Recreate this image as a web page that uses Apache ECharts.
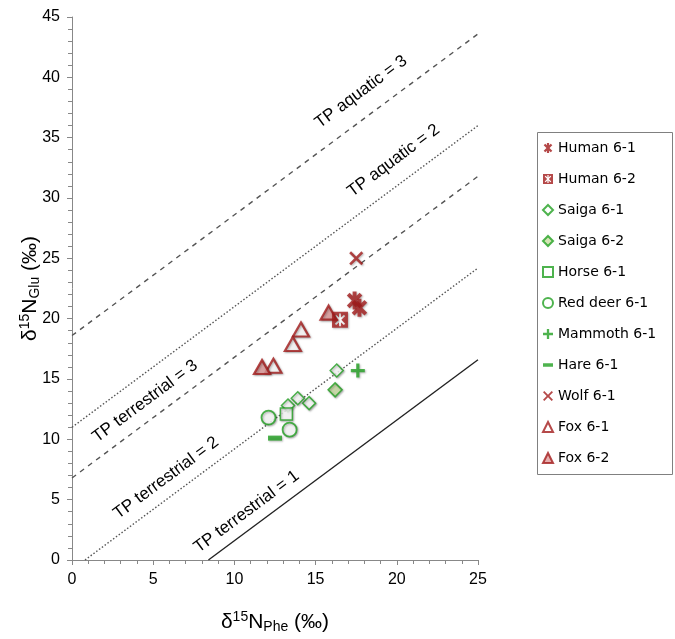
<!DOCTYPE html>
<html><head><meta charset="utf-8">
<script src="https://cdn.jsdelivr.net/npm/echarts@6/dist/echarts.min.js"></script>
<style>html,body{margin:0;padding:0;background:#fff}#c{width:675px;height:639px}</style>
</head><body><div id="c"></div>
<script>
// ---- data ----
const seriesNames = ['Human 6-1','Human 6-2','Saiga 6-1','Saiga 6-2','Horse 6-1','Red deer 6-1','Mammoth 6-1','Hare 6-1','Wolf 6-1','Fox 6-1','Fox 6-2'];
const human61 = [[17.4,21.5],[17.7,20.9]];
const human62 = [[16.5,19.9]];
const saiga61 = [[16.3,15.7],[14.6,13.0],[13.9,13.4],[13.3,12.8]];
const saiga62 = [[16.2,14.1]];
const horse61 = [[13.2,12.1]];
const redDeer61 = [[12.1,11.8],[13.4,10.8]];
const mammoth61 = [[17.6,15.7]];
const hare61 = [[12.5,10.1]];
const wolf61 = [[17.5,25.0]];
const fox61 = [[14.1,19.1],[13.6,17.9],[12.4,16.1]];
const fox62 = [[15.8,20.5],[11.7,16.0]];

// reference lines: endpoints [x,y]
const tpLineNames = ['TP aquatic = 3','TP aquatic = 2','TP terrestrial = 3','TP terrestrial = 2','TP terrestrial = 1'];
const tpLineStarts = [[0,18.6],[0,11.0],[0,6.8],[0.8,0],[8.4,0]];
const tpLineEnds = [[25,43.6],[25,36.0],[25,31.8],[25,24.2],[25,16.6]];
const tpLabelAnchors = [[17.8,38.8],[19.8,33.1],[4.5,13.15],[5.8,6.8],[10.75,4.0]];

const xTickValues = [0,5,10,15,20,25];
const yTickValues = [0,5,10,15,20,25,30,35,40,45];

// ---- styles ----
const RED = '#A21B1B', GREEN = '#22A022';
function starPoints(angles, L, w, cx, cy){
  const pts=[]; const n=angles.length;
  for(let i=0;i<n;i++){
    const a=angles[i]*Math.PI/180; let b=angles[(i+1)%n]*Math.PI/180; if(b<=a) b+=2*Math.PI;
    const dx=Math.cos(a), dy=Math.sin(a), px=-dy, py=dx;
    pts.push([cx+L*dx-w*px, cy+L*dy-w*py]);
    pts.push([cx+L*dx+w*px, cy+L*dy+w*py]);
    const m=(a+b)/2, r=w/Math.sin((b-a)/2);
    pts.push([cx+r*Math.cos(m), cy+r*Math.sin(m)]);
  }
  return pts;
}
function toPath(pts){ return 'M'+pts.map(p=>p[0].toFixed(2)+','+p[1].toFixed(2)).join('L')+'Z'; }
const AST = [45,90,135,225,270,315];
const symAsterisk = 'path://' + toPath(starPoints(AST,10,2.2,10,10));
const symSquareStar = 'path://M0,0L20,0L20,20L0,20Z' + toPath(starPoints(AST,8,1.2,10,10).reverse());
const symX = 'path://' + toPath(starPoints([45,135,225,315],10,1.5,10,10));
const symPlus = 'path://' + toPath(starPoints([0,90,180,270],10,2.3,10,10));
const symBar = 'path://M0,0L10,0L10,3.5L0,3.5Z';

const shadow = {shadowBlur:2, shadowColor:'rgba(0,0,0,0.35)', shadowOffsetX:1, shadowOffsetY:1};
function sc(name, data, symbol, size, item, extra){
  return Object.assign({type:'scatter', name, data, symbol, symbolSize:size, symbolKeepAspect:true,
    itemStyle:Object.assign({}, shadow, item), emphasis:{disabled:true}, z:2}, extra||{});
}

const seriesList = [
  sc(seriesNames[0], human61, symAsterisk, 18, {color:RED}, {z:4}),
  sc(seriesNames[1], human62, symSquareStar, 16, {color:RED}, {z:4}),
  sc(seriesNames[2], saiga61, 'diamond', 13, {color:'#fff', borderColor:GREEN, borderWidth:1.5}),
  sc(seriesNames[3], saiga62, 'diamond', 14, {color:'#C9DDA2', borderColor:GREEN, borderWidth:1.5}),
  sc(seriesNames[4], horse61, 'rect', 12, {color:'#fff', borderColor:GREEN, borderWidth:1.5}),
  sc(seriesNames[5], redDeer61, 'circle', 14, {color:'#fff', borderColor:GREEN, borderWidth:1.8}),
  sc(seriesNames[6], mammoth61, symPlus, 14, {color:GREEN}),
  sc(seriesNames[7], hare61, symBar, [14,5], {color:GREEN}, {symbolKeepAspect:false}),
  sc(seriesNames[8], wolf61, symX, 14, {color:RED}),
  sc(seriesNames[9], fox61, 'triangle', [16,14], {color:'#fff', borderColor:RED, borderWidth:2.2}),
  sc(seriesNames[10], fox62, 'triangle', [16,14], {color:'#E09A9A', borderColor:RED, borderWidth:2.2})
];

const lineTypes = [[5,5],[1.5,2],[5,5],[1.5,2],'solid'];
const lineColors = ['#555','#555','#555','#555','#222'];
function lineSeries(angle){
  return tpLineNames.map((nm,i)=>({
    type:'line', name:nm, data:[tpLineStarts[i], tpLineEnds[i]], showSymbol:false, symbol:'none',
    silent:true, z:1, lineStyle:{color:lineColors[i], width:1.4, type:lineTypes[i]},
    markPoint:{symbol:'circle', symbolSize:1, silent:true, itemStyle:{color:'rgba(0,0,0,0)'},
      label:{show:true, position:'inside', formatter:nm, rotate:angle, color:'#000', fontSize:17, fontFamily:'Liberation Sans'},
      data:[{coord:tpLabelAnchors[i], name:nm}]}
  }));
}

const axisCommon = {
  type:'value', splitLine:{show:false},
  axisLine:{show:true, onZero:false, lineStyle:{color:'#888', width:1}},
  axisTick:{show:true, length:5, lineStyle:{color:'#888'}},
  minorTick:{show:true, splitNumber:5, length:4, lineStyle:{color:'#888'}},
  axisLabel:{fontSize:16, color:'#000', fontFamily:'Liberation Sans', margin:12},
  nameLocation:'middle', nameMoveOverlap:false
};
const richName = {
  b:{fontSize:21, fontFamily:'Liberation Sans', color:'#000', lineHeight:24},
  sup:{fontSize:14, fontFamily:'Liberation Sans', color:'#000', lineHeight:13, verticalAlign:'top'},
  sub:{fontSize:14, fontFamily:'Liberation Sans', color:'#000', lineHeight:13, verticalAlign:'bottom'}
};

const chart = echarts.init(document.getElementById('c'), null, {renderer:'canvas'});
function build(angle){
  return {
    animation:false,
    backgroundColor:'#fff',
    grid:{left:72, top:17, width:406, height:545, containLabel:false},
    xAxis:Object.assign({}, axisCommon, {min:xTickValues[0], max:xTickValues[xTickValues.length-1], interval:5,
      name:'{b|δ}{sup|15}{b|N}{sub|Phe}{b| (‰)}', nameGap:50, nameTextStyle:{rich:richName}}),
    yAxis:Object.assign({}, axisCommon, {min:yTickValues[0], max:yTickValues[yTickValues.length-1], interval:5,
      name:'{b|δ}{sup|15}{b|N}{sub|Glu}{b| (‰)}', nameGap:30, nameRotate:90, nameTextStyle:{rich:richName}}),
    legend:{orient:'vertical', left:542, top:141, itemWidth:10, itemHeight:10, itemGap:17, padding:0,
      data:seriesNames, textStyle:{fontFamily:'DejaVu Sans', fontSize:14, color:'#000'}, selectedMode:false},
    graphic:[{type:'rect', left:535, top:130, shape:{width:135, height:342}, style:{fill:'none', stroke:'#808080', lineWidth:1}, z:-1}],
    series: lineSeries(angle).concat(seriesList)
  };
}
chart.setOption(build(0));
const p0 = chart.convertToPixel({gridIndex:0},[0,0]);
const p1 = chart.convertToPixel({gridIndex:0},[25,25]);
const ang = Math.atan2(p0[1]-p1[1], p1[0]-p0[0])*180/Math.PI;
chart.setOption(build(ang), true);
</script></body></html>
